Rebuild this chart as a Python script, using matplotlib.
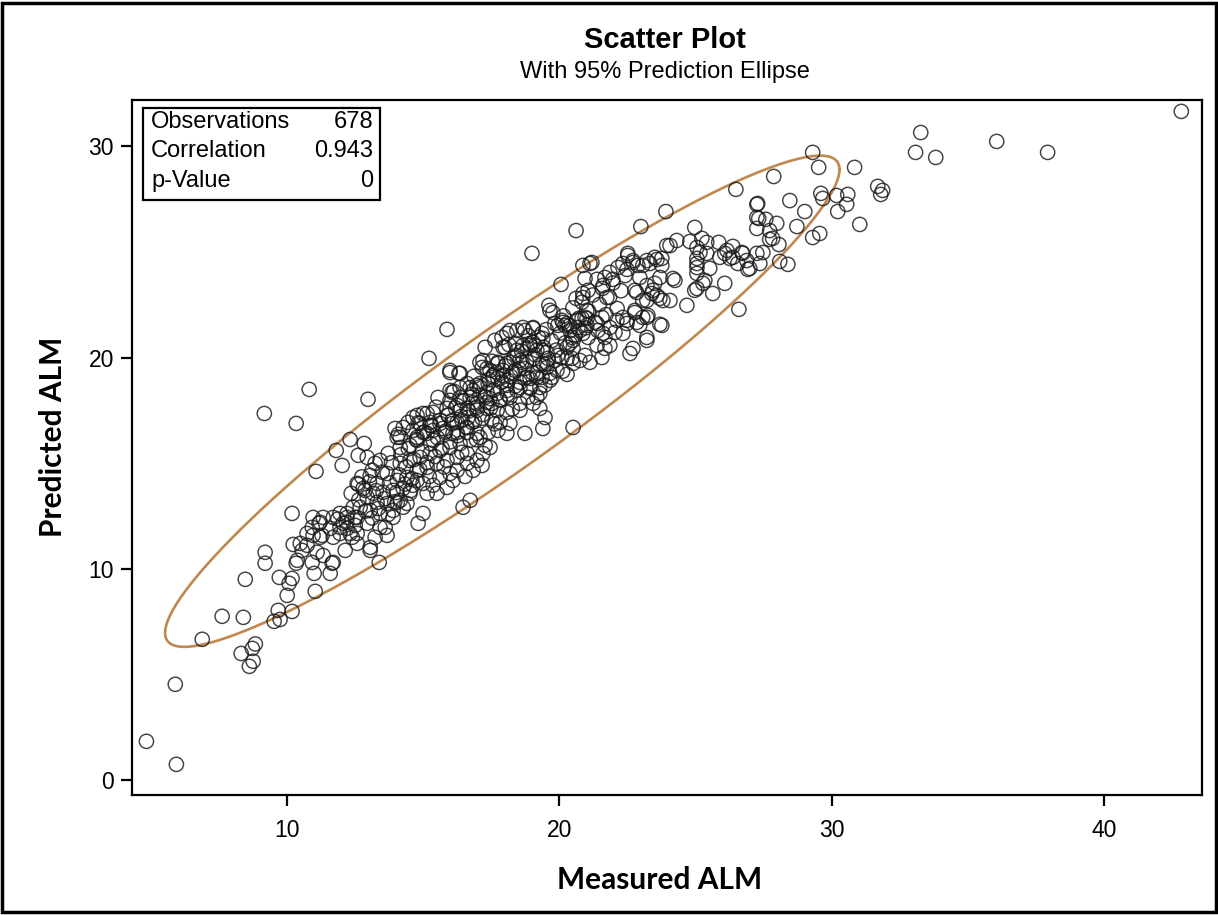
import numpy as np
import matplotlib
matplotlib.use("Agg")
import matplotlib.pyplot as plt
from matplotlib.patches import Rectangle

# (measured ALM, predicted ALM), grouped by region
low_tail = [
    (4.83, 1.84), (5.93, 0.75), (5.89, 4.54), (6.88, 6.67), (7.61, 7.76), (8.39, 7.71),
    (8.46, 9.51), (8.31, 6.0), (8.72, 6.24), (8.83, 6.45), (8.75, 5.63), (8.61, 5.39),
    (9.71, 9.60), (10.07, 9.32), (10.18, 9.55), (10.0, 8.75), (10.99, 9.79), (11.58, 9.79),
    (11.03, 8.94), (9.67, 8.04), (9.52, 7.52), (9.74, 7.61), (10.18, 7.99), (9.19, 10.27),
    (10.33, 10.27), (10.92, 10.31), (11.65, 10.27), (13.38, 10.31),
]

band_low = [
    (10.81, 18.50), (12.97, 18.03), (9.16, 17.36), (10.33, 16.89), (12.31, 16.13),
    (12.83, 15.94), (11.80, 15.61), (12.61, 15.38), (12.94, 15.28), (12.02, 14.90),
    (11.06, 14.62), (13.23, 15.0), (13.05, 14.43), (12.61, 14.0), (12.35, 13.58),
    (12.86, 13.72), (13.16, 13.58), (10.18, 12.63), (10.95, 12.44), (11.32, 12.44),
    (11.69, 12.44), (11.94, 12.63), (12.20, 12.44), (12.50, 12.44), (11.17, 12.16),
    (10.92, 11.97), (11.94, 11.97), (12.20, 11.92), (12.57, 11.68), (12.39, 11.50),
    (11.28, 11.59), (10.95, 11.59), (11.69, 11.50), (10.22, 11.16), (10.73, 11.12),
    (10.55, 10.88), (11.10, 10.79), (12.13, 10.88), (12.57, 11.21), (9.19, 10.79),
    (10.37, 10.41), (11.32, 10.64), (11.69, 10.31), (13.05, 10.88),
]

core_low = [
    (13.96, 16.65), (14.44, 16.94), (14.77, 17.27), (15.14, 17.36), (15.54, 18.12),
    (16.06, 18.36), (16.35, 19.26), (15.98, 19.30), (16.61, 18.78), (17.08, 18.78),
    (17.56, 19.16), (17.27, 15.85), (17.16, 14.90), (16.53, 14.38), (15.50, 13.58),
    (16.72, 13.25), (16.46, 12.92), (14.99, 12.63), (14.81, 12.16), (13.60, 11.97),
    (13.23, 11.50), (12.50, 12.06), (10.73, 11.68), (10.48, 11.21), (13.05, 11.02),
    (12.79, 13.81), (12.57, 14.05), (13.12, 14.67), (13.41, 15.14), (13.71, 15.47),
    (14.15, 15.75), (14.51, 15.85), (14.04, 16.23), (14.77, 16.09), (15.14, 16.42),
    (15.36, 16.09), (15.72, 16.65), (16.09, 16.42), (16.24, 16.94), (16.61, 16.70),
    (16.64, 17.17), (16.97, 17.51), (17.34, 17.88), (17.52, 17.84), (17.71, 18.31),
    (16.83, 17.88), (16.35, 17.51), (15.91, 17.27), (15.25, 16.80), (14.15, 15.0),
    (14.51, 15.14), (14.88, 15.28), (15.25, 15.47), (15.61, 15.61), (15.98, 15.75),
    (16.35, 15.94), (16.72, 16.09), (17.08, 16.23), (14.77, 14.67), (15.14, 14.81),
    (15.50, 15.0), (15.87, 15.14), (16.24, 15.28), (16.61, 15.47), (13.67, 14.52),
    (14.04, 14.19), (14.40, 14.33), (13.30, 14.05), (13.52, 13.63), (13.89, 13.72),
    (14.26, 13.81), (14.62, 13.96), (14.99, 14.05), (12.94, 13.39), (13.30, 13.15),
    (13.67, 13.10), (14.04, 13.15), (14.40, 13.10), (12.68, 12.92), (13.05, 12.77),
    (13.41, 12.63), (13.89, 12.77), (14.26, 12.92), (12.20, 12.63), (12.57, 12.44),
    (12.06, 12.16), (11.21, 12.21), (11.58, 11.92), (12.94, 12.16), (13.41, 11.97),
    (13.89, 12.44), (11.94, 11.68), (12.31, 11.68), (11.21, 11.50), (13.67, 11.59),
    (14.15, 13.25), (14.51, 13.58), (15.14, 13.58), (14.77, 14.19), (15.61, 14.33),
    (15.98, 14.52), (16.24, 14.67), (16.61, 15.0), (16.97, 15.14), (17.19, 15.47),
    (17.45, 15.75), (16.83, 14.67), (15.87, 13.86), (15.36, 13.96), (16.09, 14.19),
]

core_mid = [
    (19.76, 22.14), (20.20, 21.53), (15.87, 21.34), (15.21, 19.97), (15.98, 19.40),
    (16.31, 19.26), (18.07, 21.15), (18.66, 21.43), (19.03, 21.43), (18.0, 20.49),
    (18.44, 20.35), (18.81, 20.44), (19.10, 20.58), (19.39, 20.91), (19.54, 20.25),
    (17.08, 19.78), (17.34, 19.49), (17.74, 19.78), (18.07, 19.73), (18.55, 19.87),
    (19.03, 19.97), (19.39, 19.73), (19.65, 19.26), (19.94, 20.11), (20.28, 19.97),
    (20.50, 19.73), (20.39, 20.68), (20.75, 19.87), (17.56, 19.07), (17.93, 19.16),
    (18.29, 19.26), (18.81, 19.07), (19.17, 19.07), (19.65, 18.93), (18.07, 18.69),
    (18.55, 18.59), (18.92, 18.59), (19.28, 18.59), (16.72, 18.59), (16.35, 18.59),
    (15.98, 18.45), (15.98, 17.98), (16.35, 18.12), (16.72, 18.12), (17.08, 18.22),
    (17.45, 18.07), (17.82, 17.98), (18.18, 18.12), (18.55, 17.84), (19.03, 17.84),
    (19.17, 18.12), (18.55, 17.51), (19.47, 17.17), (19.28, 17.60), (18.07, 17.41),
    (17.71, 17.51), (17.34, 17.60), (16.97, 17.65), (16.61, 17.60), (16.24, 17.74),
    (15.87, 17.60), (15.36, 17.41), (14.99, 17.36), (14.62, 17.17), (14.88, 16.89),
    (15.25, 16.94), (15.61, 16.89), (16.06, 17.03), (16.42, 17.03), (16.79, 16.94),
    (17.16, 17.13), (17.52, 17.03), (17.82, 16.94), (18.18, 16.89), (18.73, 16.42),
    (19.39, 16.65), (14.26, 16.70), (14.62, 16.56), (14.99, 16.46), (15.36, 16.56),
    (15.80, 16.46), (16.24, 16.46), (16.61, 16.46), (16.97, 16.42), (17.38, 16.46),
    (17.74, 16.56), (18.07, 16.42), (20.50, 16.70), (14.15, 16.23), (14.77, 16.23),
]

core_dense = [
    (12.63, 13.27), (12.88, 12.74), (13.02, 14.12), (13.27, 13.71), (13.34, 12.86),
    (13.49, 14.58), (13.58, 13.33), (13.76, 14.07), (13.83, 15.03), (14.02, 13.62),
    (14.11, 14.46), (14.18, 15.41), (14.33, 14.02), (14.37, 14.84), (14.45, 15.69),
    (14.58, 14.27), (14.66, 15.18), (14.74, 16.13), (14.87, 14.71), (14.96, 15.57),
    (15.04, 16.48), (15.13, 15.04), (15.27, 15.93), (15.31, 16.77), (15.43, 15.32),
    (15.52, 16.21), (15.63, 17.04), (15.69, 15.72), (15.82, 16.53), (15.91, 17.29),
    (15.99, 16.02), (16.05, 16.88), (16.18, 17.63), (16.27, 16.31), (16.39, 17.22),
    (16.44, 17.97), (16.58, 16.69), (16.67, 17.48), (16.79, 18.27), (16.88, 16.98),
    (16.97, 17.83), (17.07, 18.62), (17.19, 17.31), (17.28, 18.14), (17.41, 18.96),
    (17.47, 17.62), (17.58, 18.47), (17.69, 19.32), (17.81, 18.02), (17.88, 18.84),
    (18.02, 19.61), (18.09, 18.27), (18.21, 19.12), (18.33, 19.98), (18.38, 18.66),
    (18.52, 19.47), (18.61, 20.31), (18.72, 19.03), (18.79, 19.82), (18.91, 20.66),
    (19.02, 19.28), (19.11, 20.14), (19.23, 20.97), (19.29, 19.64), (19.42, 20.49),
    (19.51, 21.33), (19.58, 19.97), (19.71, 20.81), (19.83, 21.62), (19.88, 20.36),
    (20.04, 21.17), (20.15, 21.98), (20.22, 20.71), (20.37, 21.52), (20.49, 22.36),
    (20.58, 21.06), (20.72, 21.87), (20.83, 22.63), (20.96, 21.41), (21.07, 22.21),
    (21.22, 22.97), (21.31, 21.68), (21.47, 22.52), (21.58, 23.28), (21.71, 22.04),
    (21.84, 22.86), (21.97, 23.54), (22.12, 22.33), (22.26, 23.17), (22.41, 23.89),
    (13.12, 12.41), (13.95, 13.18), (14.53, 13.71), (15.22, 14.38), (15.76, 14.83),
    (16.41, 15.52), (16.95, 16.12), (17.62, 16.87), (18.27, 17.58), (18.84, 18.13),
    (19.47, 18.71), (20.12, 19.36), (14.08, 16.37), (14.81, 16.92), (15.47, 17.66),
    (16.12, 18.41), (16.86, 19.12), (17.53, 19.83), (18.14, 20.62), (18.86, 21.04),
    (12.42, 12.92), (12.18, 12.21), (11.86, 12.36), (13.71, 12.58), (12.74, 14.36),
]

core_high = [
    (18.99, 24.94), (20.61, 26.02), (20.06, 23.47), (20.86, 24.37), (21.12, 24.46),
    (20.94, 23.75), (21.38, 23.71), (21.67, 23.80), (21.85, 24.04), (21.96, 23.71),
    (21.60, 23.42), (21.74, 22.85), (21.05, 23.19), (20.86, 22.85), (20.61, 22.81),
    (19.61, 22.48), (19.65, 22.24), (19.94, 21.53), (20.13, 21.67), (20.83, 21.86),
    (21.01, 21.86), (21.56, 21.91), (21.01, 21.53), (20.68, 21.43), (20.39, 21.29),
    (20.50, 20.82), (20.86, 21.15), (21.05, 20.96), (21.41, 21.29), (21.67, 20.96),
    (21.85, 21.43), (22.11, 21.77), (22.33, 21.91), (22.48, 21.62), (22.84, 21.67),
    (23.06, 21.91), (23.25, 22.0), (22.77, 22.24), (22.33, 24.46), (22.70, 24.60),
    (22.51, 24.84), (23.06, 24.37), (23.32, 24.46), (23.50, 24.75), (23.76, 24.70),
    (23.94, 25.31), (22.95, 23.80), (23.21, 23.42), (23.50, 23.52), (23.39, 23.04),
    (23.69, 22.81), (22.84, 23.09), (23.21, 22.71), (23.76, 21.53), (23.21, 20.82),
    (22.70, 20.44), (22.59, 20.20), (20.46, 20.96), (20.50, 20.44), (20.28, 20.49),
    (20.09, 20.01), (20.46, 19.97), (21.12, 19.78), (21.56, 20.01), (21.67, 20.44),
    (21.85, 20.58), (21.38, 20.58), (20.94, 20.11), (20.28, 19.21), (19.91, 19.40),
    (19.54, 19.54), (19.83, 19.87), (19.39, 20.35), (19.03, 20.72), (18.73, 21.29),
    (19.03, 21.39), (19.36, 21.15), (18.44, 21.29), (18.18, 21.29), (17.89, 20.96),
    (17.63, 20.82), (17.27, 20.49), (17.93, 20.49), (18.37, 20.68), (18.66, 20.58),
    (18.92, 20.58), (19.17, 20.35), (18.44, 20.11), (18.62, 19.78), (18.18, 19.78),
    (17.74, 19.73), (17.19, 19.87), (17.16, 19.54), (17.45, 19.40), (17.93, 19.40),
    (18.37, 19.40), (18.73, 19.49), (19.17, 19.30), (19.36, 19.07), (18.92, 19.02),
    (18.55, 18.83), (18.11, 18.93), (17.74, 19.02), (17.38, 18.78), (16.97, 18.69),
    (16.83, 18.45), (17.34, 18.36), (18.07, 18.45), (18.44, 18.45), (18.92, 18.55),
    (19.28, 18.31), (19.54, 19.73), (19.72, 19.07),
]

upper = [
    (27.25, 27.26), (27.25, 26.64), (23.91, 26.92), (22.99, 26.21), (22.51, 24.94),
    (24.06, 25.31), (24.31, 25.55), (24.79, 25.50), (25.41, 25.46), (26.15, 25.08),
    (26.70, 24.98), (25.89, 24.75), (26.26, 24.70), (26.99, 24.23), (26.88, 24.60),
    (25.05, 25.22), (25.05, 24.70), (25.05, 24.27), (25.34, 23.66), (25.05, 23.28),
    (24.68, 22.48), (24.24, 23.66), (24.17, 23.75), (23.69, 23.80), (23.76, 24.37),
    (23.58, 24.65), (23.21, 24.60), (22.88, 24.37), (22.70, 24.51), (22.48, 24.18),
    (22.77, 23.19), (22.15, 24.27), (21.19, 24.51), (20.86, 23.04), (23.43, 23.19),
    (23.58, 22.95), (23.80, 22.71), (24.06, 22.71), (23.06, 22.71), (22.77, 22.14),
    (23.21, 21.91), (23.69, 21.58), (22.95, 21.53), (22.48, 21.77), (21.38, 21.62),
    (21.01, 22.24), (20.94, 21.91), (20.64, 21.77), (20.28, 21.62), (20.09, 21.77),
    (20.75, 21.29), (21.60, 21.15), (22.04, 21.20), (22.33, 21.15), (23.21, 20.96),
]

top_end = [
    (29.30, 29.72), (29.52, 29.01), (30.84, 29.01), (27.87, 28.58), (26.48, 27.97),
    (31.69, 28.11), (31.87, 27.92), (31.80, 27.73), (29.60, 27.78), (29.67, 27.54),
    (30.18, 27.68), (30.59, 27.73), (30.55, 27.26), (30.22, 26.92), (28.46, 27.44),
    (27.28, 27.30), (29.01, 26.92), (27.32, 26.59), (27.58, 26.55), (27.98, 26.36),
    (27.25, 26.12), (27.72, 26.02), (28.72, 26.21), (31.03, 26.31), (29.56, 25.88),
    (29.30, 25.69), (27.72, 25.60), (28.06, 25.36), (27.83, 25.65), (24.97, 26.17),
    (25.23, 25.65), (25.85, 25.46), (26.37, 25.27), (26.07, 24.94), (26.73, 24.94),
    (27.25, 24.94), (27.47, 24.98), (25.16, 24.98), (25.41, 24.94), (26.37, 24.75),
    (26.55, 24.46), (26.92, 24.18), (27.36, 24.46), (28.09, 24.56), (28.39, 24.42),
    (25.52, 24.23), (25.05, 24.46), (26.07, 23.52), (25.63, 23.04), (25.27, 23.52),
    (24.97, 23.19), (26.59, 22.29), (25.05, 23.99),
    (33.27, 30.66), (33.08, 29.72), (33.82, 29.48), (36.06, 30.24), (37.93, 29.72),
    (42.84, 31.66),
]

stats_labels = ["Observations", "Correlation", "p-Value"]
stats_values = ["678", "0.943", "0"]

# 95% prediction ellipse: centre, standard deviations and correlation
ell_mean = (17.9, 17.94)
ell_sd = (5.06, 4.75)
ell_r = 0.943

pts = np.array(low_tail + band_low + core_low + core_mid + core_dense
               + core_high + upper + top_end)
measured = pts[:, 0]
predicted = pts[:, 1]

plt.rcParams["font.family"] = ["Liberation Sans", "DejaVu Sans"]

fig = plt.figure(figsize=(12.18, 9.15), dpi=100)
ax = fig.add_axes([132 / 1218, 1 - 795 / 915, 1070 / 1218, 695 / 915])

ax.scatter(measured, predicted, s=105, facecolors="none", edgecolors="#1a1a1a",
           linewidths=1.05, alpha=0.82, zorder=3)

# ellipse from the covariance
c = np.sqrt(-2 * np.log(0.05))
t = np.linspace(0, 2 * np.pi, 400)
ex = ell_mean[0] + c * ell_sd[0] * np.cos(t)
ey = ell_mean[1] + c * ell_sd[1] * (ell_r * np.cos(t) + np.sqrt(1 - ell_r ** 2) * np.sin(t))
ax.plot(ex, ey, color="#C0874E", lw=1.9, zorder=2)

ax.set_xlim(4.3, 43.6)
ax.set_ylim(-0.7, 32.2)
ax.set_xticks([10, 20, 30, 40])
ax.set_yticks([0, 10, 20, 30])
ax.tick_params(axis="both", length=8, width=1.6, labelsize=16.5, color="black")
ax.tick_params(axis="x", pad=9)
ax.tick_params(axis="y", pad=5)
for sp in ax.spines.values():
    sp.set_linewidth(1.6)

ax.set_xlabel("Measured ALM", fontsize=21.5, fontweight="bold", family="Lato")
ax.set_ylabel("Predicted ALM", fontsize=21.5, fontweight="bold", family="Lato")
ax.xaxis.set_label_coords(0.4935, -0.102)
ax.yaxis.set_label_coords(-0.061, 0.515)

# statistics box
ax.add_patch(Rectangle((0.0103, 0.8561), 0.2215, 0.1324, transform=ax.transAxes,
                       fill=False, edgecolor="black", lw=1.6, zorder=4))
for i, (lab, val) in enumerate(zip(stats_labels, stats_values)):
    yy = 0.9683 - i * 0.0424
    ax.text(0.0178, yy, lab, transform=ax.transAxes, fontsize=17, va="center", ha="left")
    ax.text(0.2252, yy, val, transform=ax.transAxes, fontsize=17, va="center", ha="right")

fig.text(665 / 1218, 1 - 40 / 915, "Scatter Plot", fontsize=21, fontweight="bold",
         ha="center", va="center")
fig.text(665 / 1218, 1 - 72 / 915, "With 95% Prediction Ellipse", fontsize=17,
         ha="center", va="center")

fig.patches.append(Rectangle((0.002, 0.003), 0.996, 0.994, transform=fig.transFigure,
                             fill=False, edgecolor="black", lw=2.5))

fig.savefig("out.png", dpi=100)
